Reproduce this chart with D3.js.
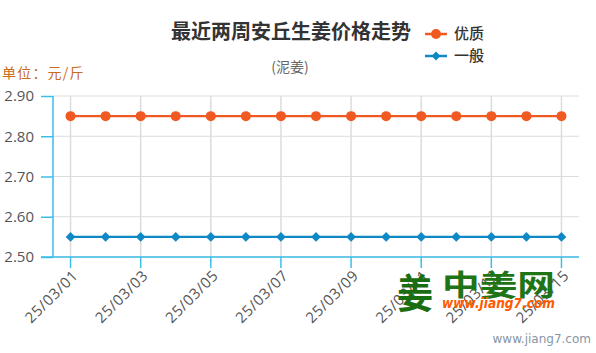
<!DOCTYPE html>
<html>
<head>
<meta charset="utf-8">
<script src="https://cdn.jsdelivr.net/npm/d3@7/dist/d3.min.js"></script>
<style>
  html, body { margin: 0; padding: 0; background: #fff; }
  svg { display: block; font-family: "Noto Sans CJK SC", "Open Sans", sans-serif; }
</style>
</head>
<body>
<div id="chart"></div>
<script>
// data
const dates = ['25/03/01', '25/03/02', '25/03/03', '25/03/04', '25/03/05', '25/03/06', '25/03/07',
  '25/03/08', '25/03/09', '25/03/10', '25/03/11', '25/03/12', '25/03/13', '25/03/14', '25/03/15'];
const premium = [2.85, 2.85, 2.85, 2.85, 2.85, 2.85, 2.85, 2.85, 2.85, 2.85, 2.85, 2.85, 2.85, 2.85, 2.85];
const ordinary = [2.55, 2.55, 2.55, 2.55, 2.55, 2.55, 2.55, 2.55, 2.55, 2.55, 2.55, 2.55, 2.55, 2.55, 2.55];
const yTicks = [2.5, 2.6, 2.7, 2.8, 2.9];
const seriesNames = ['优质', '一般'];

const width = 596, height = 353;
const margin = { top: 96, right: 17, bottom: 96, left: 53 };
const innerWidth = width - margin.left - margin.right;
const innerHeight = height - margin.top - margin.bottom;

const axisColor = '#3dbde9';
const gridColor = '#dcdcdc';
const colors = ['#f05a22', '#0e89c6'];

const svg = d3.select('#chart').append('svg')
  .attr('width', width).attr('height', height);

// title block
svg.append('text')
  .attr('x', 291).attr('y', 39)
  .attr('text-anchor', 'middle')
  .attr('font-size', 20).attr('font-weight', 'bold').attr('fill', '#333')
  .text('最近两周安丘生姜价格走势');
svg.append('text')
  .attr('x', 290).attr('y', 72)
  .attr('text-anchor', 'middle')
  .attr('font-size', 14).attr('fill', '#666')
  .text('(泥姜)');
svg.append('text')
  .attr('x', 2).attr('y', 78)
  .attr('font-size', 14).attr('fill', '#c96a1c')
  .attr('letter-spacing', 1.2)
  .text('单位：元/斤');

const g = svg.append('g').attr('transform', `translate(${margin.left},${margin.top})`);

const x = d3.scaleBand().domain(dates).range([0, innerWidth]);
const y = d3.scaleLinear().domain([2.5, 2.9]).range([innerHeight, 0]);
const cx = (d) => x(d) + x.bandwidth() / 2;
const oddDates = dates.filter((d, i) => i % 2 === 0);

// grid
g.append('g').selectAll('line.h').data(yTicks).join('line')
  .attr('x1', 0).attr('x2', innerWidth)
  .attr('y1', (d) => y(d)).attr('y2', (d) => y(d))
  .attr('stroke', gridColor).attr('stroke-width', 1);
g.append('g').selectAll('line.v').data(oddDates).join('line')
  .attr('x1', cx).attr('x2', cx)
  .attr('y1', 0).attr('y2', innerHeight)
  .attr('stroke', gridColor).attr('stroke-width', 1.5);

// axes
const yAxisG = g.append('g')
  .call(d3.axisLeft(y).tickValues(yTicks).tickSize(12).tickPadding(7).tickFormat(d3.format('.2f')));
const xAxisG = g.append('g').attr('transform', `translate(0,${innerHeight})`)
  .call(d3.axisBottom(x).tickValues(oddDates).tickSize(11).tickPadding(4));
[yAxisG, xAxisG].forEach((a) => {
  a.select('.domain').attr('stroke', axisColor).attr('stroke-width', 1.5);
  a.selectAll('.tick line').attr('stroke', axisColor).attr('stroke-width', 1.5);
  a.selectAll('text').attr('fill', '#555').attr('font-family', '"Open Sans", sans-serif');
});
yAxisG.select('.domain').attr('d', `M0,${innerHeight}V0`);
xAxisG.select('.domain').attr('d', `M-12,0H${innerWidth}`);
yAxisG.selectAll('text').attr('font-size', 15);
xAxisG.selectAll('text')
  .attr('font-size', 15)
  .attr('letter-spacing', 0.6)
  .attr('text-anchor', 'end')
  .attr('transform', 'translate(5,16) rotate(-45)')
  .attr('dy', '0.32em').attr('y', 0).attr('x', 0);

// series
const allSeries = [premium, ordinary];
const line = d3.line().x((d, i) => cx(dates[i])).y((d) => y(d));
allSeries.forEach((vals, k) => {
  g.append('path').datum(vals)
    .attr('d', line).attr('fill', 'none')
    .attr('stroke', colors[k]).attr('stroke-width', 2.2);
});
g.append('g').selectAll('circle').data(premium).join('circle')
  .attr('cx', (d, i) => cx(dates[i])).attr('cy', (d) => y(d))
  .attr('r', 5).attr('fill', colors[0]);
g.append('g').selectAll('path').data(ordinary).join('path')
  .attr('d', d3.symbol(d3.symbolDiamond2, 60))
  .attr('transform', (d, i) => `translate(${cx(dates[i])},${y(d)})`)
  .attr('fill', colors[1]);

// legend
const legend = svg.append('g').attr('transform', 'translate(425,34)');
seriesNames.forEach((name, k) => {
  const row = legend.append('g').attr('transform', `translate(0,${k * 22})`);
  row.append('line').attr('x1', 0).attr('x2', 22).attr('y1', 0).attr('y2', 0)
    .attr('stroke', colors[k]).attr('stroke-width', 2.5);
  if (k === 0) {
    row.append('circle').attr('cx', 11).attr('cy', 0).attr('r', 5).attr('fill', colors[k]);
  } else {
    row.append('path').attr('d', d3.symbol(d3.symbolDiamond2, 50))
      .attr('transform', 'translate(11,0)').attr('fill', colors[k]);
  }
  row.append('text').attr('x', 29).attr('y', 0).attr('dy', '0.35em')
    .attr('font-size', 15).attr('font-weight', 500).attr('fill', '#333')
    .text(name);
});

// watermark
const wm = svg.append('g');
wm.append('text')
  .attr('x', 397).attr('y', 308)
  .attr('font-size', 40).attr('font-weight', 'bold').attr('fill', '#1b6d12')
  .attr('textLength', 36).attr('lengthAdjust', 'spacingAndGlyphs')
  .text('姜');
wm.append('text')
  .attr('x', 442).attr('y', 296)
  .attr('font-size', 29).attr('font-weight', 'bold').attr('fill', '#1f7416')
  .attr('textLength', 113).attr('lengthAdjust', 'spacingAndGlyphs')
  .text('中姜网');
wm.append('text')
  .attr('x', 442).attr('y', 308)
  .attr('font-size', 14).attr('font-weight', 'bold').attr('font-style', 'italic')
  .attr('font-family', '"DejaVu Sans", sans-serif')
  .attr('fill', '#ff5a00')
  .attr('textLength', 113).attr('lengthAdjust', 'spacingAndGlyphs')
  .text('www.jiang7.com');
svg.append('text')
  .attr('x', 591).attr('y', 343)
  .attr('text-anchor', 'end')
  .attr('font-size', 12).attr('fill', '#8796a6')
  .attr('font-family', '"DejaVu Sans", sans-serif')
  .text('www.jiang7.com');
</script>
</body>
</html>
